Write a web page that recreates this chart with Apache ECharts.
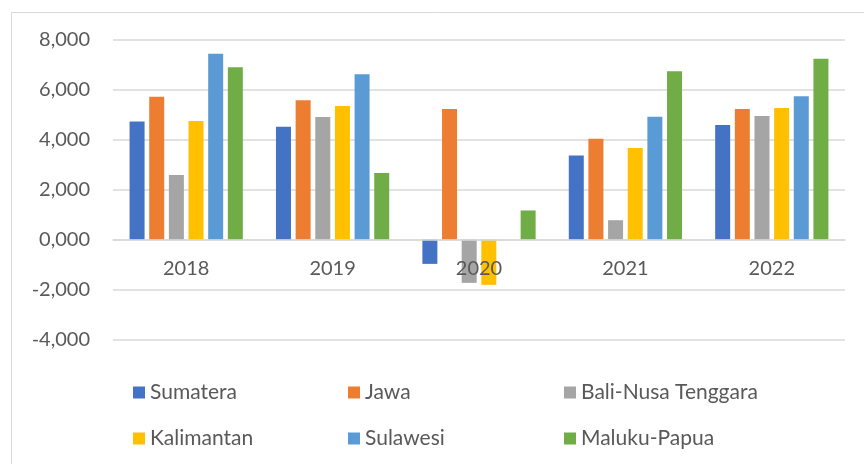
<!DOCTYPE html>
<html>
<head>
<meta charset="utf-8">
<script src="https://cdn.jsdelivr.net/npm/echarts@6/dist/echarts.min.js"></script>
<style>
  html, body { margin: 0; padding: 0; background: #fff; }
  #chart { width: 864px; height: 464px; }
</style>
</head>
<body>
<div id="chart"></div>
<script>
const years = ['2018', '2019', '2020', '2021', '2022'];
const sumatera = [4.73, 4.52, -0.97, 3.37, 4.59];
const jawa = [5.73, 5.59, 5.24, 4.04, 5.24];
const baliNusa = [2.59, 4.91, -1.73, 0.78, 4.95];
const kalimantan = [4.75, 5.36, -1.81, 3.67, 5.28];
const sulawesi = [7.45, 6.63, 0, 4.92, 5.75];
const malukuPapua = [6.91, 2.67, 1.17, 6.75, 7.25];

const names = ['Sumatera', 'Jawa', 'Bali-Nusa Tenggara', 'Kalimantan', 'Sulawesi', 'Maluku-Papua'];
const values = [sumatera, jawa, baliNusa, kalimantan, sulawesi, malukuPapua];
const colors = ['#4472C4', '#ED7D31', '#A5A5A5', '#FFC000', '#5B9BD5', '#70AD47'];

const font = 'Lato, "Noto Sans", sans-serif';
const textColor = '#595959';
const gridColor = '#d9d9d9';

const myChart = echarts.init(document.querySelector('#chart'));

// legend laid out as 3 columns x 2 rows, one legend per item
const legendPos = [[128, 377], [343, 377], [559, 377], [128, 423], [343, 423], [559, 423]];
const legends = names.map((n, i) => ({
  data: [n],
  left: legendPos[i][0],
  top: legendPos[i][1],
  icon: 'rect',
  itemWidth: 12,
  itemHeight: 12,
  selectedMode: false,
  textStyle: { color: textColor, fontSize: 21, fontFamily: font }
}));

myChart.setOption({
  animation: false,
  color: colors,
  graphic: [{
    type: 'rect',
    shape: { x: 11.5, y: 12.5, width: 900, height: 500 },
    style: { fill: 'none', stroke: gridColor, lineWidth: 1 },
    silent: true
  }],
  legend: legends,
  grid: { left: 113, right: 19, top: 40, bottom: 124.5 },
  xAxis: {
    type: 'category',
    data: years,
    z: 5,
    // category labels sit under the zero line, like the original
    offset: -100,
    axisLine: { onZero: false, lineStyle: { color: gridColor, width: 1.5 } },
    axisTick: { show: false },
    axisLabel: { color: textColor, fontSize: 20, fontFamily: font, margin: 19 }
  },
  yAxis: {
    type: 'value',
    min: -4,
    max: 8,
    interval: 2,
    axisLine: { show: false },
    axisTick: { show: false },
    splitLine: { lineStyle: { color: gridColor, width: 1.5 } },
    axisLabel: {
      color: textColor, fontSize: 20, fontFamily: font, margin: 23,
      formatter: v => v.toFixed(3).replace('.', ',')
    }
  },
  series: names.map((n, i) => ({
    name: n,
    type: 'bar',
    data: values[i],
    barWidth: 15,
    barGap: '31%'
  }))
});
</script>
</body>
</html>
